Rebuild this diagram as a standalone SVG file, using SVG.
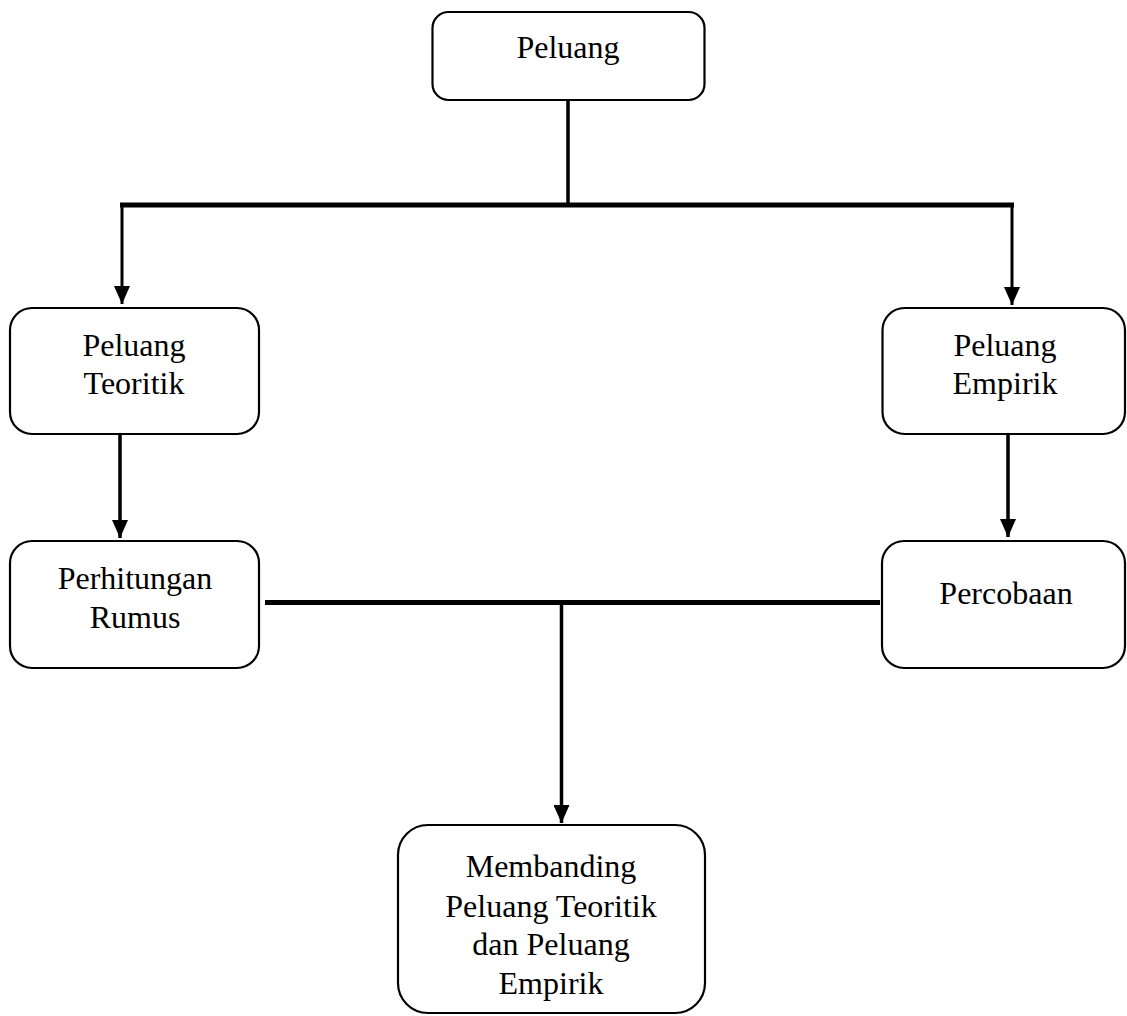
<svg xmlns="http://www.w3.org/2000/svg" width="1127" height="1016" viewBox="0 0 1127 1016">
<style>
.box{fill:#fff;stroke:#000;stroke-width:2.2}
.t{font-family:"Liberation Serif","Times New Roman",serif;font-size:32px;fill:#000;text-anchor:middle}
.c{stroke:#000;fill:none;stroke-linecap:butt}
</style>
<defs>
<marker id="ah" markerUnits="userSpaceOnUse" markerWidth="18" markerHeight="16" refX="18" refY="8" orient="auto" viewBox="0 0 18 16">
<path d="M0,0 L18,8 L0,16 z" fill="#000"/>
</marker>
</defs>
<rect width="1127" height="1016" fill="#fff"/>
<g id="connectors">
<line class="c" x1="568" y1="100" x2="568" y2="206" stroke-width="3.5"/>
<line class="c" x1="120" y1="205" x2="1014" y2="205" stroke-width="5"/>
<line class="c" x1="122" y1="205" x2="122" y2="304" stroke-width="3" marker-end="url(#ah)"/>
<line class="c" x1="1012" y1="205" x2="1012" y2="305" stroke-width="3" marker-end="url(#ah)"/>
<line class="c" x1="120" y1="435" x2="120" y2="538" stroke-width="3.5" marker-end="url(#ah)"/>
<line class="c" x1="1008" y1="435" x2="1008" y2="537" stroke-width="3.5" marker-end="url(#ah)"/>
<line class="c" x1="265" y1="602.5" x2="880" y2="602.5" stroke-width="5"/>
<line class="c" x1="561.5" y1="602" x2="561.5" y2="823" stroke-width="3.5" marker-end="url(#ah)"/>
</g>
<g id="peluang">
<rect class="box" x="432.5" y="12" width="272" height="88" rx="16"/>
<text class="t" x="568" y="58">Peluang</text>
</g>
<g id="teoritik">
<rect class="box" x="10" y="308" width="249" height="126" rx="22"/>
<text class="t" x="134" y="356">Peluang</text>
<text class="t" x="134" y="394">Teoritik</text>
</g>
<g id="empirik">
<rect class="box" x="882.5" y="308" width="242.5" height="126" rx="22"/>
<text class="t" x="1005" y="356">Peluang</text>
<text class="t" x="1005" y="394">Empirik</text>
</g>
<g id="rumus">
<rect class="box" x="10" y="541" width="249" height="127" rx="22"/>
<text class="t" x="135" y="589">Perhitungan</text>
<text class="t" x="135" y="628">Rumus</text>
</g>
<g id="percobaan">
<rect class="box" x="882" y="541" width="243" height="127" rx="22"/>
<text class="t" x="1006" y="604">Percobaan</text>
</g>
<g id="membanding">
<rect class="box" x="398" y="825" width="307" height="188" rx="30"/>
<text class="t" x="551" y="877">Membanding</text>
<text class="t" x="551" y="917">Peluang Teoritik</text>
<text class="t" x="551" y="955">dan Peluang</text>
<text class="t" x="551" y="994">Empirik</text>
</g>
</svg>
